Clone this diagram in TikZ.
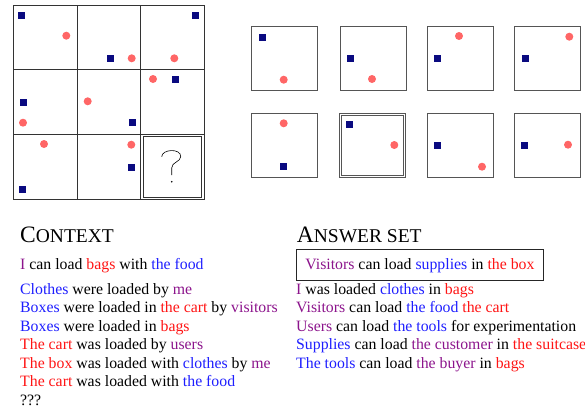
\documentclass[tikz,border=0pt]{standalone}
\usepackage{fontspec}
\setmainfont{Liberation Serif}
\usepackage{xcolor}
\usepackage{tikz}
\usetikzlibrary{positioning}
\definecolor{navy}{RGB}{10,10,128}
\definecolor{salmon}{RGB}{255,102,102}
\definecolor{agent}{RGB}{140,20,140}
\definecolor{thing}{RGB}{30,30,255}
\definecolor{place}{RGB}{255,20,20}
\definecolor{frame}{RGB}{85,85,85}
\newcommand{\who}[1]{\textcolor{agent}{#1}}
\newcommand{\what}[1]{\textcolor{thing}{#1}}
\newcommand{\where}[1]{\textcolor{place}{#1}}
\newcommand{\bigsc}[1]{{\fontsize{23.5}{23.5}\selectfont #1}}
\newcommand{\smallsc}[1]{{\fontsize{19.5}{19.5}\selectfont #1}}

\begin{document}
\begin{tikzpicture}[x=1pt,y=-1pt,
      font=\fontsize{15.8}{18.5}\selectfont,
      cell/.style={draw=black!80,line width=0.8pt,minimum width=63.6pt,minimum height=64.7pt,inner sep=0pt},
      opt/.style={draw=frame,line width=0.9pt,minimum width=66pt,minimum height=64pt,inner sep=0pt},
      sq/.style={fill=navy,minimum size=7pt,inner sep=0pt},
      dot/.style={circle,fill=salmon,minimum size=8pt,inner sep=0pt},
      line/.style={anchor=base west,inner sep=0pt}]
      \useasboundingbox (0,0) rectangle (585,407);
      % puzzle grid
      \foreach \r in {1,2,3}
        \foreach \c in {1,2,3}
          \node[cell] (g\r\c) at ({13.3+63.6*(\c-0.5)},{5+64.7*(\r-0.5)}) {};
      \node[draw=black!80,line width=0.8pt,minimum width=57.7pt,minimum height=60.7pt] (ask) at (g33) {};
      \draw[line width=0.6pt] (161.7,156.7) .. controls (162,149) and (181,148) .. (180.7,156.7)
            .. controls (180.5,162) and (171.7,162) .. (171.7,168) -- (171.7,175);
      \fill (171.7,181.7) circle (0.9pt);
      \node[sq] at (21.7,15.3) {};   \node[dot] at (66.3,35.7) {};
      \node[sq] at (110,58.3) {};    \node[dot] at (131.7,58.3) {};
      \node[sq] at (195,15.7) {};    \node[dot] at (174.3,58.3) {};
      \node[sq] at (23,102) {};      \node[dot] at (23,122.7) {};
      \node[sq] at (132.3,122.3) {}; \node[dot] at (87.7,101.3) {};
      \node[sq] at (175.7,79) {};    \node[dot] at (153,79) {};
      \node[sq] at (22.7,189) {};    \node[dot] at (44,144) {};
      \node[sq] at (131,167.3) {};   \node[dot] at (131.3,144.7) {};
      % candidate panels
      \foreach \c/\x in {1/284.3,2/373,3/460.3,4/547.2}
        \node[opt] (a\c) at (\x,58.2) {};
      \foreach \c/\x in {1/284.3,3/460.3,4/547.2}
        \node[opt] (b\c) at (\x,145) {};
      \node[opt,double=white,double distance=1.4pt,line width=0.6pt,minimum width=64pt,minimum height=62pt] (b2) at (372.3,145.5) {};
      \node[sq] at (262,37) {};      \node[dot] at (283.7,79.7) {};
      \node[sq] at (350.7,58.7) {};  \node[dot] at (372,79) {};
      \node[sq] at (437.3,58.7) {};  \node[dot] at (459,36) {};
      \node[sq] at (525.3,58.3) {};  \node[dot] at (569.3,36.7) {};
      \node[sq] at (283.7,166.3) {}; \node[dot] at (283.7,123.3) {};
      \node[sq] at (349.7,124) {};   \node[dot] at (394.3,145) {};
      \node[sq] at (437,145) {};     \node[dot] at (482,166.7) {};
      \node[sq] at (524.7,145.7) {}; \node[dot] at (568,144.7) {};
      % context sentences
      \node[line] (ctx) at (20,242.7) {\bigsc{C}\smallsc{ONTEXT}};
      \node[line] (c0) at (20,269) {\who{I} can load \where{bags} with \what{the food}};
      \foreach \t [count=\i] in {
          {\what{Clothes} were loaded by \who{me}},
          {\what{Boxes} were loaded in \where{the cart} by \who{visitors}},
          {\what{Boxes} were loaded in \where{bags}},
          {\where{The cart} was loaded by \who{users}},
          {\where{The box} was loaded with \what{clothes} by \who{me}},
          {\where{The cart} was loaded with \what{the food}},
          {???}}
        \node[line] (c\i) at (20,{294+18.5*(\i-1)}) {\t};
      % answer set
      \node[line] (ans) at (296.7,242.7) {\bigsc{A}\smallsc{NSWER SET}};
      \node[draw=black!85,line width=0.9pt,anchor=base west,inner xsep=9.3pt,inner ysep=7.5pt,
            text height=12pt,text depth=3.5pt] (pick) at (295.7,269)
            {\who{Visitors} can load \what{supplies} in \where{the box}};
      \foreach \t [count=\i] in {
          {\who{I} was loaded \what{clothes} in \where{bags}},
          {\who{Visitors} can load \what{the food} \where{the cart}},
          {\who{Users} can load \what{the tools} for experimentation},
          {\what{Supplies} can load \who{the customer} in \where{the suitcase}},
          {\what{The tools} can load \who{the buyer} in \where{bags}}}
        \node[line] (r\i) at (296,{294+18.5*(\i-1)}) {\t};
    \end{tikzpicture}
\end{document}
